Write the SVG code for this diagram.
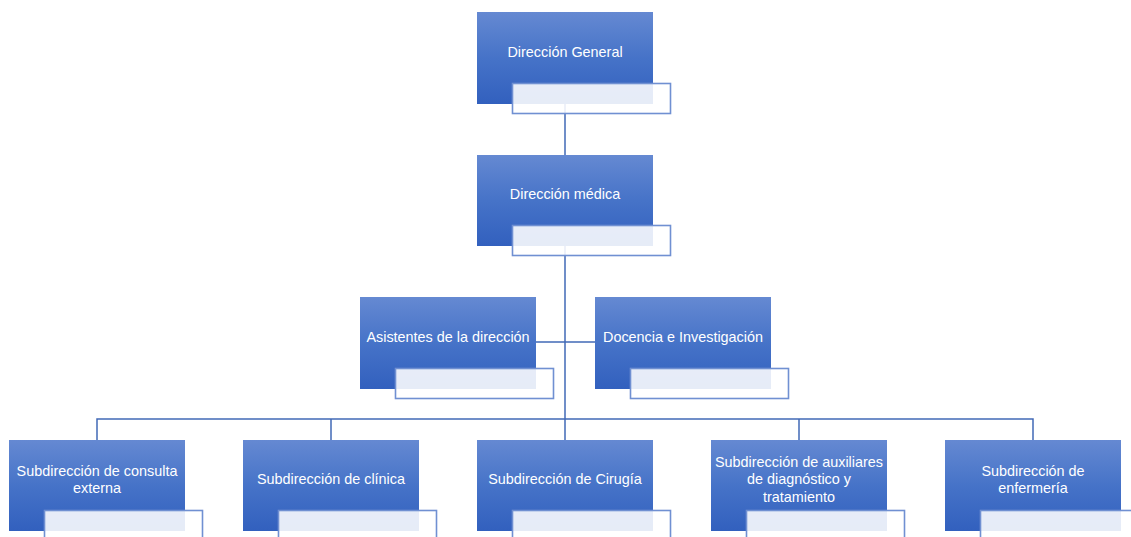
<svg xmlns="http://www.w3.org/2000/svg" width="1131" height="537" viewBox="0 0 1131 537">
<defs>
<linearGradient id="g" x1="0" y1="0" x2="0" y2="1">
<stop offset="0" stop-color="#6589D2"/>
<stop offset="0.5" stop-color="#4673C8"/>
<stop offset="1" stop-color="#3260BE"/>
</linearGradient>
<style>
.m{fill:url(#g);}
.s{fill:#ffffff;fill-opacity:0.88;stroke:#7090D2;stroke-width:1.6;}
.c{fill:none;stroke:#4169B6;stroke-width:1.5;}
text{font-family:"Liberation Sans",Arial,sans-serif;font-size:14.4px;fill:#ffffff;text-anchor:middle;}
</style>
</defs>
<rect width="1131" height="537" fill="#ffffff"/>
<g id="connectors">
<path class="c" d="M565,104 V155"/>
<path class="c" d="M565,246 V419"/>
<path class="c" d="M536,342 H595"/>
<path class="c" d="M97,440 V419 H1033 V440"/>
<path class="c" d="M331,419 V440"/>
<path class="c" d="M565,419 V440"/>
<path class="c" d="M799,419 V440"/>
</g>
<g id="n1">
<rect class="m" x="477" y="12" width="176" height="92"/>
<rect class="s" x="512.5" y="83.5" width="158" height="30"/>
<text x="565" y="57">Dirección General</text>
</g>
<g id="n2">
<rect class="m" x="477" y="155" width="176" height="91"/>
<rect class="s" x="512.5" y="225.5" width="158" height="30"/>
<text x="565" y="199">Dirección médica</text>
</g>
<g id="n3">
<rect class="m" x="360" y="297" width="176" height="92"/>
<rect class="s" x="395.5" y="368.5" width="158" height="30"/>
<text x="448" y="342">Asistentes de la dirección</text>
</g>
<g id="n4">
<rect class="m" x="595" y="297" width="176" height="92"/>
<rect class="s" x="630.5" y="368.5" width="158" height="30"/>
<text x="683" y="342">Docencia e Investigación</text>
</g>
<g id="n5">
<rect class="m" x="9" y="440" width="176" height="91"/>
<rect class="s" x="44.5" y="510.5" width="158" height="30"/>
<text x="97" y="475.5">Subdirección de consulta</text>
<text x="97" y="492.5">externa</text>
</g>
<g id="n6">
<rect class="m" x="243" y="440" width="176" height="91"/>
<rect class="s" x="278.5" y="510.5" width="158" height="30"/>
<text x="331" y="484">Subdirección de clínica</text>
</g>
<g id="n7">
<rect class="m" x="477" y="440" width="176" height="91"/>
<rect class="s" x="512.5" y="510.5" width="158" height="30"/>
<text x="565" y="484">Subdirección de Cirugía</text>
</g>
<g id="n8">
<rect class="m" x="711" y="440" width="176" height="91"/>
<rect class="s" x="746.5" y="510.5" width="158" height="30"/>
<text x="799" y="466.5">Subdirección de auxiliares</text>
<text x="799" y="484">de diagnóstico y</text>
<text x="799" y="501.5">tratamiento</text>
</g>
<g id="n9">
<rect class="m" x="945" y="440" width="176" height="91"/>
<rect class="s" x="980.5" y="510.5" width="158" height="30"/>
<text x="1033" y="475.5">Subdirección de</text>
<text x="1033" y="492.5">enfermería</text>
</g>
</svg>
